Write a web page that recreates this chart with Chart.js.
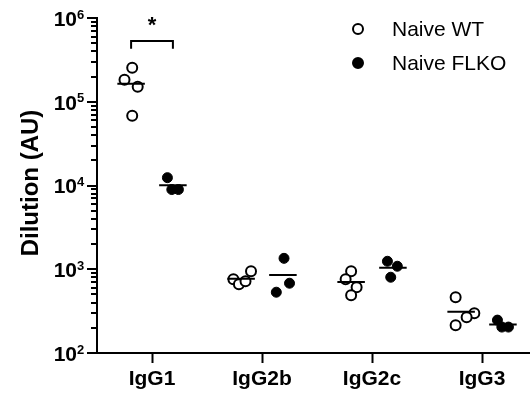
<!DOCTYPE html>
<html>
<head>
    <title>antibody-dilution</title>
    <meta charset="utf-8">
    <script src="https://cdn.jsdelivr.net/npm/chart.js"></script>
    <style>
        body { margin: 0; background: #fff; }
    </style>
</head>
<body>
    <canvas id="chart" width="530" height="396"></canvas>

    <script>
        const categories = ['IgG1', 'IgG2b', 'IgG2c', 'IgG3'];
        const seriesNames = ['Naive WT', 'Naive FLKO'];

        // one row per isotype, one value per mouse
        const wtValues = [
            [254000, 183000, 151000, 68000],
            [760, 662, 720, 947],
            [947, 760, 611, 490],
            [464, 299, 268, 215]
        ];
        const flkoValues = [
            [12400, 8950, 8950],
            [1350, 532, 681],
            [1245, 1086, 803],
            [247, 204, 204]
        ];
        // horizontal scatter of the dots (category units)
        const wtJitter = [
            [0.01, -0.06, 0.06, 0.01],
            [-0.07, -0.02, 0.04, 0.09],
            [0, -0.05, 0.05, 0],
            [-0.05, 0.12, 0.05, -0.05]
        ];
        const flkoJitter = [
            [-0.05, -0.01, 0.05],
            [0.01, -0.06, 0.06],
            [-0.05, 0.04, -0.02],
            [-0.05, -0.01, 0.05]
        ];
        const yDecades = [2, 3, 4, 5, 6];
        // significance bracket between WT and FLKO for IgG1
        const bracketTop = 532000;
        const bracketEnd = 428000;
        const bracketLabel = '*';

        const groupOffset = 0.19;
        const meanHalf = 0.125;

        function mean(arr) {
            return arr.reduce((a, b) => a + b, 0) / arr.length;
        }

        function points(values, jitter, side) {
            const out = [];
            values.forEach((row, c) => {
                row.forEach((v, i) => {
                    out.push({ x: c + side * groupOffset + jitter[c][i], y: v });
                });
            });
            return out;
        }

        function meanLines() {
            const out = [];
            [[wtValues, -1], [flkoValues, 1]].forEach(([values, side]) => {
                values.forEach((row, c) => {
                    const cx = c + side * groupOffset;
                    const m = mean(row);
                    out.push({ x: cx - meanHalf, y: m });
                    out.push({ x: cx + meanHalf, y: m });
                    out.push({ x: cx, y: null });
                });
            });
            return out;
        }

        const bracket = [
            { x: -groupOffset, y: bracketEnd },
            { x: -groupOffset, y: bracketTop },
            { x: groupOffset, y: bracketTop },
            { x: groupOffset, y: bracketEnd }
        ];

        const decor = {
            id: 'decor',
            afterDraw(chart) {
                const ctx = chart.ctx;
                const yScale = chart.scales.y;
                const left = chart.chartArea.left;
                ctx.save();
                ctx.fillStyle = '#000';
                ctx.strokeStyle = '#000';
                ctx.lineWidth = 2;

                // y ticks (major + minor)
                yDecades.forEach((d, i) => {
                    const kMax = i == yDecades.length - 1 ? 1 : 9;
                    for (let k = 1; k <= kMax; k++) {
                        const ty = Math.round(yScale.getPixelForValue(k * Math.pow(10, d)));
                        const len = k == 1 ? 10 : 6;
                        ctx.fillRect(left - len, ty - 1, len, 2);
                    }
                });

                // 10^n labels
                yDecades.forEach((d) => {
                    const ly = yScale.getPixelForValue(Math.pow(10, d));
                    ctx.font = 'bold 21px "Liberation Sans", Arial, sans-serif';
                    ctx.textAlign = 'right';
                    ctx.textBaseline = 'middle';
                    ctx.fillText('10', 77, ly + 2);
                    ctx.font = 'bold 13px "Liberation Sans", Arial, sans-serif';
                    ctx.textAlign = 'left';
                    ctx.textBaseline = 'alphabetic';
                    ctx.fillText(String(d), 77, ly + 0.5);
                });

                // axis title
                ctx.save();
                ctx.translate(31, 183);
                ctx.rotate(-Math.PI / 2);
                ctx.font = 'bold 24px "Liberation Sans", Arial, sans-serif';
                ctx.textAlign = 'center';
                ctx.textBaseline = 'middle';
                ctx.fillText('Dilution (AU)', 0, 0);
                ctx.restore();

                // significance star
                const sx = (chart.scales.x.getPixelForValue(-groupOffset) + chart.scales.x.getPixelForValue(groupOffset)) / 2;
                const sy = yScale.getPixelForValue(bracketTop);
                ctx.font = 'bold 22px "Liberation Sans", Arial, sans-serif';
                ctx.textAlign = 'center';
                ctx.textBaseline = 'middle';
                ctx.fillText(bracketLabel, sx, sy - 15);

                // legend
                const rows = [[seriesNames[0], '#fff'], [seriesNames[1], '#000']];
                rows.forEach(([name, fill], i) => {
                    const ly = 29 + i * 34;
                    ctx.beginPath();
                    ctx.arc(358, ly, 5, 0, Math.PI * 2);
                    ctx.fillStyle = fill;
                    ctx.fill();
                    ctx.stroke();
                    ctx.fillStyle = '#000';
                    ctx.font = '21px "Liberation Sans", Arial, sans-serif';
                    ctx.textAlign = 'left';
                    ctx.textBaseline = 'middle';
                    ctx.fillText(name, 392, ly + 1);
                });
                ctx.restore();
            }
        };

        new Chart(document.getElementById('chart'), {
            type: 'scatter',
            data: {
                datasets: [
                    {
                        label: 'means',
                        data: meanLines(),
                        showLine: true,
                        spanGaps: false,
                        borderColor: '#000',
                        borderWidth: 2,
                        pointRadius: 0,
                        order: 0
                    },
                    {
                        label: 'bracket',
                        data: bracket,
                        showLine: true,
                        borderColor: '#000',
                        borderWidth: 2,
                        pointRadius: 0,
                        order: 0
                    },
                    {
                        label: seriesNames[0],
                        data: points(wtValues, wtJitter, -1),
                        backgroundColor: '#fff',
                        borderColor: '#000',
                        borderWidth: 2,
                        pointRadius: 5,
                        order: 1
                    },
                    {
                        label: seriesNames[1],
                        data: points(flkoValues, flkoJitter, 1),
                        backgroundColor: '#000',
                        borderColor: '#000',
                        borderWidth: 1,
                        pointRadius: 5,
                        order: 1
                    }
                ]
            },
            options: {
                responsive: false,
                animation: false,
                devicePixelRatio: 1,
                layout: {
                    autoPadding: false,
                    padding: { top: 18, left: 0, right: 0, bottom: 0 }
                },
                plugins: {
                    legend: { display: false },
                    tooltip: { enabled: false }
                },
                scales: {
                    x: {
                        type: 'linear',
                        min: -0.5,
                        max: 3.436,
                        afterBuildTicks: (scale) => {
                            scale.ticks = categories.map((c, i) => ({ value: i }));
                        },
                        afterFit: (scale) => { scale.height = 43; },
                        ticks: {
                            callback: (v) => categories[v],
                            color: '#000',
                            padding: 4,
                            font: { family: '"Liberation Sans", Arial, sans-serif', size: 21, weight: 'bold' }
                        },
                        grid: {
                            drawOnChartArea: false,
                            drawTicks: true,
                            tickLength: 10,
                            tickWidth: 2,
                            tickColor: '#000'
                        },
                        border: { display: true, color: '#000', width: 2 }
                    },
                    y: {
                        type: 'logarithmic',
                        min: 100,
                        max: 1000000,
                        afterFit: (scale) => { scale.width = 97; },
                        ticks: { display: false },
                        grid: { display: false },
                        border: { display: true, color: '#000', width: 2 }
                    }
                }
            },
            plugins: [decor]
        });
    </script>
</body>
</html>
